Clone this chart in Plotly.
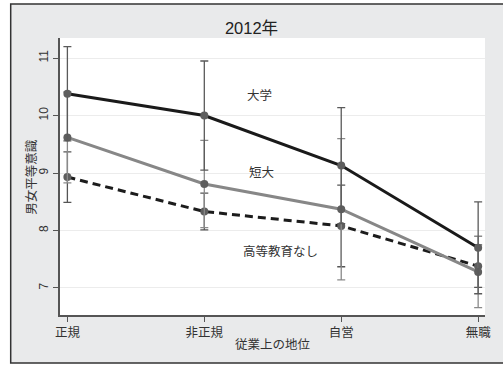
import plotly.graph_objects as go

# Employment status categories and mean gender-equality scores by education
categories = ["正規", "非正規", "自営", "無職"]
univ = [10.38, 10.00, 9.13, 7.70]
univ_ci = [0.82, 0.95, 1.01, 0.80]
junior = [9.62, 8.81, 8.37, 7.28]
junior_ci = [0.79, 0.76, 1.23, 0.62]
no_higher = [8.93, 8.33, 8.08, 7.38]
no_higher_ci = [0.44, 0.32, 0.71, 0.37]

y_ticks = [7, 8, 9, 10, 11]

FONT = "Liberation Sans, Arial, Noto Sans CJK JP"
JP = "Noto Sans CJK JP, Liberation Sans"

fig = go.Figure()


def add_series(values, ci, name, color, bar_color, dash):
    fig.add_trace(go.Scatter(
        x=categories, y=values, name=name, mode="lines+markers",
        line=dict(color=color, width=3, dash=dash),
        marker=dict(color="#5e5e5e", size=8),
        error_y=dict(type="data", array=ci, symmetric=True,
                     color=bar_color, thickness=1.3, width=4),
    ))


add_series(no_higher, no_higher_ci, "高等教育なし", "#1c1c1c", "#555555", "8px,5px")
add_series(junior, junior_ci, "短大", "#878787", "#8a8a8a", "solid")
add_series(univ, univ_ci, "大学", "#1a1a1a", "#5a5a5a", "solid")

# Series labels placed inside the plot
for text, x, y in [("大学", 1.40, 10.36), ("短大", 1.42, 9.02), ("高等教育なし", 1.56, 7.66)]:
    fig.add_annotation(x=x, y=y, text=text, showarrow=False,
                       font=dict(family=JP, size=12.5, color="#333333"))

# Y axis title, drawn as a rotated annotation
fig.add_annotation(xref="paper", yref="paper", x=-0.07, y=0.5, text="男女平等意識",
                   textangle=-90, showarrow=False, xanchor="center", yanchor="middle",
                   font=dict(family=JP, size=12.5, color="#333333"))

# Outer grey frame and white plotting region
fig.add_shape(type="rect", xref="paper", yref="paper",
              x0=-0.116, x1=1.05, y0=-0.173, y1=1.1227,
              fillcolor="#e9eaeb", line=dict(color="#333333", width=1.5),
              layer="below")
fig.add_shape(type="rect", xref="paper", yref="paper",
              x0=0, x1=1, y0=0, y1=1,
              fillcolor="white", line=dict(width=0), layer="below")

fig.update_layout(
    width=503, height=365,
    margin=dict(l=60, r=12, t=38, b=50),
    paper_bgcolor="white", plot_bgcolor="white",
    showlegend=False,
    font=dict(family=FONT, size=12, color="#333333"),
    title=dict(text="2012年", x=0.5, xanchor="center", y=0.922, yanchor="middle",
               font=dict(family=FONT, size=16.5, color="#222222")),
)

fig.update_xaxes(
    type="category", range=[-0.054, 3.05],
    showgrid=False, zeroline=False,
    showline=True, linecolor="#555555", linewidth=1.5,
    ticks="outside", ticklen=5, tickcolor="#555555",
    tickfont=dict(family=JP, size=12.5, color="#333333"),
    title=dict(text="従業上の地位", font=dict(family=JP, size=12.5, color="#333333"), standoff=0),
)
fig.update_yaxes(
    range=[6.53, 11.35], tickvals=y_ticks, tickangle=-90,
    showgrid=True, gridcolor="#ececec", gridwidth=1.2, zeroline=False,
    showline=True, linecolor="#555555", linewidth=1.5,
    ticks="outside", ticklen=5, tickcolor="#555555",
    tickfont=dict(family=FONT, size=12, color="#333333"),
)

fig.write_html("out.html")
